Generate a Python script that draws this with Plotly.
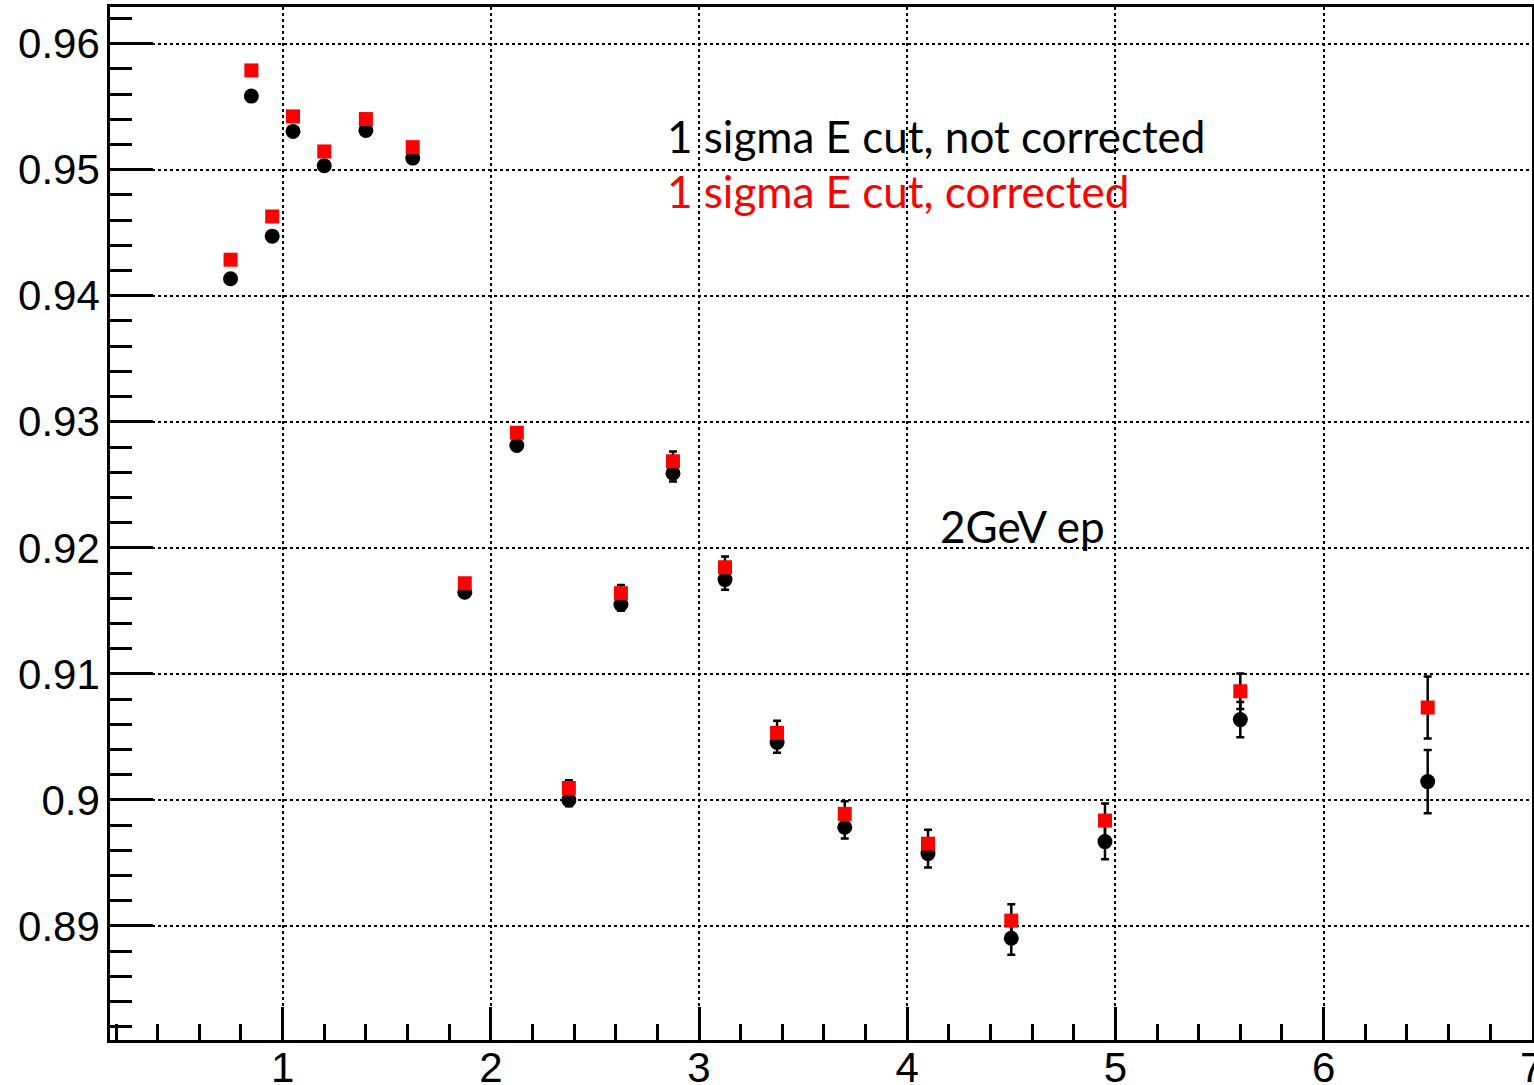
import plotly.graph_objects as go

# Bin centres (GeV)
x_bins = [0.75, 0.85, 0.95, 1.05, 1.2, 1.4, 1.625, 1.875, 2.125, 2.375,
          2.625, 2.875, 3.125, 3.375, 3.7, 4.1, 4.5, 4.95, 5.6, 6.5]

# 1 sigma E cut, not corrected
y_uncorr = [0.94135, 0.95584, 0.94473, 0.95304, 0.95032, 0.95312, 0.95092,
            0.91648, 0.92812, 0.90000, 0.91550, 0.92592, 0.91748, 0.90455,
            0.89783, 0.89574, 0.88902, 0.89669, 0.90637, 0.90145]
err_uncorr = [0.0002, 0.0002, 0.0002, 0.0002, 0.0002, 0.0002, 0.0002,
              0.0003, 0.0003, 0.0005, 0.0005, 0.00066, 0.0008, 0.0008,
              0.0009, 0.0011, 0.0013, 0.0014, 0.0014, 0.0025]

# 1 sigma E cut, corrected
y_corr = [0.94286, 0.95788, 0.94629, 0.95423, 0.95145, 0.95402, 0.95179,
          0.91719, 0.92913, 0.90095, 0.91640, 0.92687, 0.91846, 0.90532,
          0.89889, 0.89653, 0.89042, 0.89836, 0.90862, 0.90733]
err_corr = [0.0002, 0.0002, 0.0002, 0.0002, 0.0002, 0.0002, 0.0002,
            0.0003, 0.0003, 0.0006, 0.00065, 0.00077, 0.00085, 0.00095,
            0.001, 0.0011, 0.0013, 0.00135, 0.0014, 0.00246]

x_range = [0.171, 7.001]
y_range = [0.88095, 0.96291]

fig = go.Figure()

fig.add_trace(go.Scatter(
    x=x_bins, y=y_uncorr, mode="markers",
    marker=dict(symbol="circle", size=15, color="black"),
    error_y=dict(type="data", array=err_uncorr, color="black",
                 thickness=2.5, width=4),
    showlegend=False,
))
fig.add_trace(go.Scatter(
    x=x_bins, y=y_corr, mode="markers",
    marker=dict(symbol="square", size=14, color="#ff0000"),
    error_y=dict(type="data", array=err_corr, color="black",
                 thickness=2.5, width=4),
    showlegend=False,
))

label_font = "Lato, 'Open Sans', sans-serif"
fig.add_annotation(x=2.835, y=0.95264, xref="x", yref="y",
                   text="1 sigma E cut, not corrected", showarrow=False,
                   xanchor="left", yanchor="middle",
                   font=dict(family=label_font, size=44, color="black"))
fig.add_annotation(x=2.835, y=0.94828, xref="x", yref="y",
                   text="1 sigma E cut, corrected", showarrow=False,
                   xanchor="left", yanchor="middle",
                   font=dict(family=label_font, size=44, color="#ff0000"))
fig.add_annotation(x=4.146, y=0.92177, xref="x", yref="y",
                   text="2GeV ep", showarrow=False,
                   xanchor="left", yanchor="middle",
                   font=dict(family=label_font, size=44, color="black"))

tick_font = dict(family="Liberation Sans, Arial, sans-serif", size=42,
                 color="black")

fig.update_xaxes(
    range=x_range, tick0=0, dtick=1, ticks="inside", ticklen=33,
    tickwidth=2.5, tickcolor="black", tickfont=tick_font,
    ticklabelstandoff=-11, ticklabeloverflow="allow", automargin=False,
    minor=dict(dtick=0.2, tick0=0, ticks="inside", ticklen=16,
               tickwidth=2.5, tickcolor="black", showgrid=False),
    showgrid=True, gridcolor="black", gridwidth=2, griddash="dot",
    showline=True, linecolor="black", linewidth=2.5, mirror=True,
    zeroline=False,
)
fig.update_yaxes(
    range=y_range, tick0=0, dtick=0.01, ticks="inside", ticklen=43,
    tickwidth=2.5, tickcolor="black", tickfont=tick_font,
    tickformat="~g", ticklabelstandoff=-1, ticklabeloverflow="allow",
    automargin=False,
    minor=dict(dtick=0.002, tick0=0, ticks="inside", ticklen=22,
               tickwidth=2.5, tickcolor="black", showgrid=False),
    showgrid=True, gridcolor="black", gridwidth=2, griddash="dot",
    showline=True, linecolor="black", linewidth=2.5, mirror=True,
    zeroline=False,
)

fig.update_layout(
    width=1534, height=1085,
    margin=dict(l=110, r=2, t=7, b=45, pad=0),
    paper_bgcolor="white", plot_bgcolor="white",
)

fig.write_html("out.html")
